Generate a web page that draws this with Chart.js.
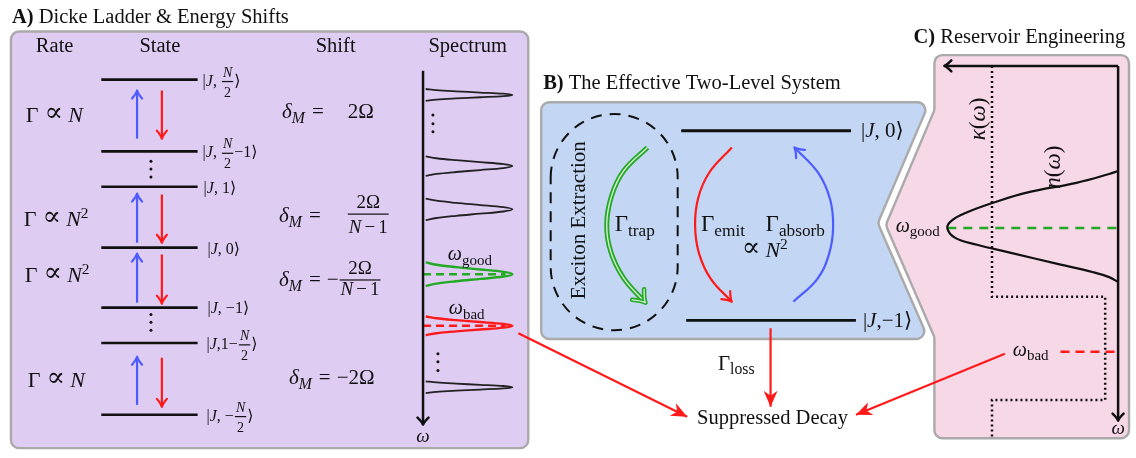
<!DOCTYPE html>
<html>
<head>
<meta charset="utf-8">
<title>Dicke ladder</title>
<script src="https://cdn.jsdelivr.net/npm/chart.js@4.4.1/dist/chart.umd.min.js"></script>
<style>
  html, body { margin: 0; padding: 0; background: #fff; }
  canvas { display: block; }
</style>
</head>
<body>
<canvas id="fig" width="1136" height="458"></canvas>
<script>
// values, in figure units (1 unit = 1 px of the picture)
const W = 1136, H = 458;

// A) Dicke ladder
const levelY = [77, 150, 186, 248, 309, 345, 418];
const levelX = [98, 195];
const upArrowX = 134, downArrowX = 159;
const upFrom = [137, 243, 304, 408], upTo = [88, 193, 254, 359];
const downFrom = [88, 194, 255, 360], downTo = [137, 243, 305, 410];
const ladderDotsX = [148, 148, 148, 148, 148, 148];
const ladderDotsY = [160, 168, 176, 316, 324, 332];

// A) spectrum
const specAxisX = 422, specTop = 68, specBottom = 428;
const peakY = [92.5, 165, 209, 275, 327.5, 390];
const peakHalf = [6, 10, 11, 12, 9.5, 6];
const peakTip = 512;
const peakKind = ['plain', 'plain', 'plain', 'good', 'bad', 'plain'];
const profileD = [-1, -0.8, -0.6, -0.4, -0.2, 0, 0.2, 0.4, 0.6, 0.8, 1];
const profileH = [0.03, 0.15, 0.37, 0.64, 0.9, 1, 0.9, 0.64, 0.37, 0.15, 0.03];
const specDotsX = [432, 432, 432, 437, 437, 437];
const specDotsY = [113, 122, 130, 356, 364, 373];
const markEnd = 505;

// B) two-level system
const bLevelY = [129, 322];
const bLevelX0 = [682, 687], bLevelX1 = [853, 858];
const trapX = [648, 624, 612, 607, 611, 624, 646];
const trapY = [146, 170, 195, 224, 252, 279, 304];
const emitX = [733, 710, 699, 696, 700, 712, 733];
const emitY = [146, 172, 198, 226, 254, 280, 303];
const absorbX = [795, 819, 831, 835, 832, 820, 796];
const absorbY = [303, 280, 254, 227, 199, 172, 146];
const lossX = [772, 772], lossY = [330, 410];

// decay arrows
const decayLX = [518, 688], decayLY = [335, 420];
const decayRX = [1008, 858], decayRY = [356, 418];

// C) reservoir
const cTop = 63, cAxisX = 1122, cLeft = 947, cBottom = 424;
const kappaX = [995, 995, 1109, 1109, 995, 995];
const kappaY = [63, 298, 298, 403, 403, 442];
const nCurveY = [170, 173, 182, 192, 202, 212, 220, 228, 238, 245, 253, 265, 273, 278, 283];
const nCurveX = [1122, 1113, 1080, 1030, 997, 970, 955, 950, 958, 980, 1013, 1063, 1097, 1113, 1122];
const cGoodY = 228, cGoodX = [950, 1122];
const cBadY = 354, cBadX = [1064, 1122];

// panel outlines
const panelA = [[7, 28], [528, 28], [528, 452], [7, 452]];
const panelB = [[541, 100], [932, 100], [880, 223], [931, 341], [541, 341]];
const panelC = [[937, 52], [1133, 52], [1133, 442], [937, 442], [937, 339], [888, 225], [937, 108]];

const BLUE = '#4d5cff', RED = '#ff1a1a', GREEN = '#22aa22', INK = '#111';
const SERIF = "'Liberation Serif','DejaVu Serif',serif";
const SUBR = 0.75;

function line(xs, ys, color, width, extra) {
  return Object.assign({
    data: xs.map((x, i) => ({ x: x, y: ys[i] })),
    showLine: true, borderColor: color, borderWidth: width,
    pointRadius: 0, fill: false, tension: 0
  }, extra || {});
}

const sets = [];
levelY.forEach(y => sets.push(line(levelX, [y, y], INK, 2.6)));
upFrom.forEach((y, i) => sets.push(line([upArrowX, upArrowX], [y, upTo[i]], BLUE, 2.2, { head: 'to', headLen: 8, headW: 5 })));
downFrom.forEach((y, i) => sets.push(line([downArrowX, downArrowX], [y, downTo[i]], RED, 2.2, { head: 'to', headLen: 8, headW: 5 })));

sets.push(line([specAxisX, specAxisX], [specTop, specBottom], INK, 2.5, { head: 'to', headLen: 7, headW: 5.5 }));
peakY.forEach((c, i) => {
  const k = peakKind[i];
  const col = k === 'good' ? GREEN : k === 'bad' ? RED : '#222';
  sets.push(line(profileH.map(h => specAxisX + h * (peakTip - specAxisX)),
                 profileD.map(d => c + d * peakHalf[i]), col, k === 'plain' ? 1.8 : 2.4, { tension: 0.35 }));
  if (k !== 'plain') sets.push(line([specAxisX, markEnd], [c, c], col, 2.4, { borderDash: [8, 5] }));
});
sets.push({ data: ladderDotsX.map((x, i) => ({ x: x, y: ladderDotsY[i] })), pointRadius: 1.5, pointBackgroundColor: INK, pointBorderWidth: 0 });
sets.push({ data: specDotsX.map((x, i) => ({ x: x, y: specDotsY[i] })), pointRadius: 1.5, pointBackgroundColor: INK, pointBorderWidth: 0 });

bLevelY.forEach((y, i) => sets.push(line([bLevelX0[i], bLevelX1[i]], [y, y], INK, 2.8)));
sets.push(line(trapX, trapY, 'rgba(214,236,214,1)', 1.4, { tension: 0.4, order: 1 }));
sets.push(line(trapX, trapY, GREEN, 5, { tension: 0.4, order: 2, head: 'dbl', headLen: 11, headW: 8, innerColor: 'rgba(214,236,214,1)' }));
sets.push(line(emitX, emitY, RED, 2.2, { tension: 0.4, head: 'to', headLen: 9, headW: 6 }));
sets.push(line(absorbX, absorbY, BLUE, 2.2, { tension: 0.4, head: 'to', headLen: 9, headW: 6 }));
sets.push(line(lossX, lossY, RED, 2.2, { head: 'stealth', headLen: 16, headW: 7 }));
sets.push(line(decayLX, decayLY, RED, 2.2, { head: 'stealth', headLen: 16, headW: 7 }));
sets.push(line(decayRX, decayRY, RED, 2.2, { head: 'stealth', headLen: 16, headW: 7 }));

sets.push(line([cAxisX, cLeft], [cTop, cTop], INK, 2.5, { head: 'to', headLen: 7, headW: 5.5 }));
sets.push(line([cAxisX, cAxisX], [cTop, cBottom], INK, 2.5, { head: 'to', headLen: 7, headW: 5.5 }));
sets.push(line(kappaX, kappaY, INK, 2.5, { borderDash: [2, 3] }));
sets.push(line(nCurveX, nCurveY, INK, 2.2, { tension: 0.4 }));
sets.push(line(cGoodX, [cGoodY, cGoodY], GREEN, 2.4, { borderDash: [9, 7] }));
sets.push(line(cBadX, [cBadY, cBadY], RED, 2.4, { borderDash: [9, 6] }));

// ---------- text ----------
const R = t => ({ t: t });
const I = t => ({ t: t, i: 1 });
const B = t => ({ t: t, b: 1 });
const SUB = (t, it) => ({ t: t, s: 1, i: it ? 1 : 0 });
const SUP = t => ({ t: t, p: 1 });
const GAP = w => ({ w: w });
const PROP = { t: '∝', fam: "'DejaVu Serif'", sc: 1.25, dy: -1 };
const kf = { fs: 14, nb: 9, bb: 4, db: 11 };
const half = den => Object.assign({ f: [[I('N')], [R(den)]] }, kf);
const fracDen = [I('N'), GAP(3), R('−'), GAP(3), R('1')];
const frac2 = Object.assign({ f: [[R('2Ω')], fracDen], fs: 19, nb: 14, bb: 8, db: 11 });
const frac3 = Object.assign({ f: [[R('2Ω')], fracDen], fs: 19, nb: 12, bb: 6, db: 9 });
const dM = [I('δ'), SUB('M', 1), GAP(7), R('='), GAP(6)];
const propN = [R('Γ'), GAP(6), PROP, GAP(5), I('N')];

const stateKets = [
  [R('|'), I('J'), R(', '), half('2'), R('⟩')],
  [R('|'), I('J'), R(', '), half('2'), R('−1⟩')],
  [R('|'), I('J'), R(', 1⟩')],
  [R('|'), I('J'), R(', 0⟩')],
  [R('|'), I('J'), R(', −1⟩')],
  [R('|'), I('J'), R(',1−'), half('2'), R('⟩')],
  [R('|'), I('J'), R(', −'), half('2'), R('⟩')]
];
const stateKetX = [200, 200, 201, 205, 205, 204, 204];

const texts = [
  { x: 8, y: 19, size: 20.5, parts: [B('A)'), R(' Dicke Ladder & Energy Shifts')] },
  { x: 543, y: 87, size: 20.5, parts: [B('B)'), R(' The Effective Two-Level System')] },
  { x: 916, y: 40, size: 20.5, parts: [B('C)'), R(' Reservoir Engineering')] },
  { x: 51, y: 49, size: 20.5, c: 1, parts: [R('Rate')] },
  { x: 157, y: 49, size: 20.5, c: 1, parts: [R('State')] },
  { x: 334, y: 49, size: 20.5, c: 1, parts: [R('Shift')] },
  { x: 467, y: 49, size: 20.5, c: 1, parts: [R('Spectrum')] },
  { x: 22, y: 120, size: 22, parts: propN },
  { x: 20, y: 226, size: 22, parts: propN.concat([SUP('2')]) },
  { x: 21, y: 283, size: 22, parts: propN.concat([SUP('2')]) },
  { x: 24, y: 390, size: 22, parts: propN },
  { x: 280, y: 116, size: 21, parts: dM.concat([GAP(18), R('2Ω')]) },
  { x: 277, y: 222, size: 21, parts: dM.concat([GAP(20), frac2]) },
  { x: 277, y: 287, size: 21, parts: dM.concat([R('−'), frac3]) },
  { x: 287, y: 387, size: 21, parts: dM.concat([R('−2Ω')]) },
  { x: 447, y: 261, size: 20, parts: [I('ω'), SUB('good')] },
  { x: 448, y: 316, size: 20, parts: [I('ω'), SUB('bad')] },
  { x: 422, y: 446, size: 19, c: 1, parts: [I('ω')] },
  { x: 578, y: 220, size: 21, rot: 1, parts: [R('Exciton Extraction')] },
  { x: 615, y: 231, size: 23, parts: [R('Γ'), SUB('trap')] },
  { x: 702, y: 231, size: 23, parts: [R('Γ'), SUB('emit')] },
  { x: 767, y: 231, size: 23, parts: [R('Γ'), SUB('absorb')] },
  { x: 743, y: 258, size: 22, parts: [PROP, GAP(5), I('N'), SUP('2')] },
  { x: 863, y: 135, size: 21, parts: [R('|'), I('J'), R(', 0⟩')] },
  { x: 865, y: 329, size: 21, parts: [R('|'), I('J'), R(',−1⟩')] },
  { x: 719, y: 372, size: 21, parts: [R('Γ'), SUB('loss')] },
  { x: 698, y: 427, size: 20.5, parts: [R('Suppressed Decay')] },
  { x: 980, y: 117, size: 23, rot: 1, parts: [I('κ'), R('('), I('ω'), R(')')] },
  { x: 1056, y: 166, size: 23, rot: 1, parts: [I('n'), R('('), I('ω'), R(')')] },
  { x: 898, y: 232, size: 20, parts: [I('ω'), SUB('good')] },
  { x: 1016, y: 358, size: 20, parts: [I('ω'), SUB('bad')] },
  { x: 1122, y: 438, size: 19, c: 1, parts: [I('ω')] }
];
stateKets.forEach((k, i) => texts.push({ x: stateKetX[i], y: levelY[i] + 6, size: 16, parts: k }));

function fnt(size, p) {
  return (p.i ? 'italic ' : '') + (p.b ? 'bold ' : '') + size + 'px ' + (p.fam || SERIF);
}
function partSize(p, size) { return (p.s ? size * SUBR : p.p ? size * 0.7 : size) * (p.sc || 1); }
function partW(ctx, p, size) {
  if (p.w) return p.w;
  if (p.f) return Math.max(runW(ctx, p.f[0], p.fs), runW(ctx, p.f[1], p.fs)) + 4;
  ctx.font = fnt(partSize(p, size), p);
  return ctx.measureText(p.t).width;
}
function runW(ctx, parts, size) { return parts.reduce((a, p) => a + partW(ctx, p, size), 0); }
function drawRun(ctx, parts, x, y, size) {
  parts.forEach(p => {
    const w = partW(ctx, p, size);
    if (p.f) {
      const nw = runW(ctx, p.f[0], p.fs), dw = runW(ctx, p.f[1], p.fs);
      drawRun(ctx, p.f[0], x + (w - nw) / 2, y - p.nb, p.fs);
      drawRun(ctx, p.f[1], x + (w - dw) / 2, y + p.db, p.fs);
      ctx.fillRect(x + 1, y - p.bb - 0.6, w - 2, 1.2);
    } else if (!p.w) {
      ctx.font = fnt(partSize(p, size), p);
      ctx.fillText(p.t, x, y + (p.dy || 0) + (p.s ? size * 0.22 : p.p ? -size * 0.38 : 0));
    }
    x += w;
  });
}

function roundPoly(ctx, pts, r) {
  const n = pts.length;
  ctx.beginPath();
  ctx.moveTo((pts[n - 1][0] + pts[0][0]) / 2, (pts[n - 1][1] + pts[0][1]) / 2);
  for (let i = 0; i < n; i++) {
    const a = pts[i], b = pts[(i + 1) % n];
    ctx.arcTo(a[0], a[1], (a[0] + b[0]) / 2, (a[1] + b[1]) / 2, r);
  }
  ctx.closePath();
}

function drawHead(ctx, x, y, ang, ds) {
  const L = ds.headLen, hw = ds.headW;
  ctx.save();
  ctx.translate(x, y);
  ctx.rotate(ang);
  ctx.setLineDash([]);
  ctx.strokeStyle = ds.borderColor;
  ctx.fillStyle = ds.borderColor;
  ctx.lineWidth = ds.head === 'dbl' ? 4.5 : ds.borderWidth;
  ctx.lineCap = 'round';
  ctx.lineJoin = 'round';
  if (ds.head === 'stealth') {
    ctx.beginPath();
    ctx.moveTo(0, 0);
    ctx.lineTo(-L, -hw);
    ctx.lineTo(-L * 0.7, 0);
    ctx.lineTo(-L, hw);
    ctx.closePath();
    ctx.fill();
  } else {
    ctx.beginPath();
    ctx.moveTo(-L, -hw);
    ctx.quadraticCurveTo(-L * 0.35, -hw * 0.15, 0, 0);
    ctx.quadraticCurveTo(-L * 0.35, hw * 0.15, -L, hw);
    ctx.stroke();
    if (ds.head === 'dbl') {
      ctx.strokeStyle = ds.innerColor;
      ctx.lineWidth = 1.3;
      ctx.stroke();
    }
  }
  ctx.restore();
}

const figPlugin = {
  id: 'fig',
  beforeDatasetsDraw(chart) {
    const ctx = chart.ctx, sx = chart.scales.x, sy = chart.scales.y;
    const px = pts => pts.map(p => [sx.getPixelForValue(p[0]), sy.getPixelForValue(p[1])]);
    ctx.save();
    ctx.lineWidth = 2.4;
    ctx.strokeStyle = '#aaaaaa';
    [[panelA, '#dfccf3'], [panelB, '#c3d6f3'], [panelC, '#f6d8e6']].forEach(pc => {
      roundPoly(ctx, px(pc[0]), 8);
      ctx.fillStyle = pc[1];
      ctx.fill();
      ctx.stroke();
    });
    // dashed stadium round the exciton extraction
    const cx = sx.getPixelForValue(614.5), r = 63.5;
    const t = sy.getPixelForValue(112) + r, b = sy.getPixelForValue(332) - r;
    ctx.beginPath();
    ctx.arc(cx, t, r, Math.PI, 2 * Math.PI);
    ctx.lineTo(cx + r, b);
    ctx.arc(cx, b, r, 0, Math.PI);
    ctx.closePath();
    ctx.setLineDash([11, 8]);
    ctx.strokeStyle = INK;
    ctx.lineWidth = 2;
    ctx.stroke();
    ctx.restore();
  },
  afterDatasetsDraw(chart) {
    const ctx = chart.ctx, sx = chart.scales.x, sy = chart.scales.y;
    ctx.save();
    chart.data.datasets.forEach((ds, i) => {
      if (!ds.head) return;
      const pts = chart.getDatasetMeta(i).data, n = pts.length;
      const p = pts[n - 1];
      let q = pts[n - 2];
      if (ds.tension > 0 && p.cp1x !== undefined && Math.abs(p.cp1x - p.x) + Math.abs(p.cp1y - p.y) > 0.5) q = { x: p.cp1x, y: p.cp1y };
      drawHead(ctx, p.x, p.y, Math.atan2(p.y - q.y, p.x - q.x), ds);
    });
    ctx.fillStyle = INK;
    ctx.textBaseline = 'alphabetic';
    texts.forEach(tx => {
      const x = sx.getPixelForValue(tx.x), y = sy.getPixelForValue(tx.y);
      const w = runW(ctx, tx.parts, tx.size);
      if (tx.rot) {
        ctx.save();
        ctx.translate(x, y);
        ctx.rotate(-Math.PI / 2);
        drawRun(ctx, tx.parts, -w / 2, tx.size * 0.33, tx.size);
        ctx.restore();
      } else {
        drawRun(ctx, tx.parts, tx.c ? x - w / 2 : x, y, tx.size);
      }
    });
    ctx.restore();
  }
};

new Chart(document.getElementById('fig'), {
  type: 'scatter',
  data: { datasets: sets },
  options: {
    responsive: false,
    animation: false,
    events: [],
    layout: { padding: 0 },
    scales: {
      x: { type: 'linear', min: 0, max: W, display: false },
      y: { type: 'linear', min: 0, max: H, reverse: true, display: false }
    },
    plugins: { legend: { display: false }, tooltip: { enabled: false } }
  },
  plugins: [figPlugin]
});
</script>
</body>
</html>
